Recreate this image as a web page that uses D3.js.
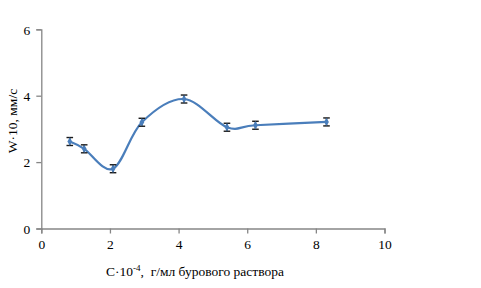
<!DOCTYPE html>
<html><head><meta charset="utf-8">
<script src="https://cdn.jsdelivr.net/npm/d3@7"></script>
<style>
body{margin:0;background:#fff;}
svg text{font-family:"Liberation Serif","Times New Roman","DejaVu Serif",serif !important;}
</style></head>
<body><svg id="c" width="481" height="288" font-family="Liberation Serif"></svg>
<script>
const xValues=[0.83,1.25,2.09,2.93,4.16,5.41,6.24,8.31];
const yValues=[2.62,2.40,1.80,3.20,3.90,3.05,3.11,3.21];
const yErr=[0.12,0.12,0.12,0.12,0.12,0.12,0.12,0.12];
const xTicks=[0,2,4,6,8,10];
const yTicks=[0,2,4,6];

const svg=d3.select("#c");
const x=d3.scaleLinear().domain([0,10]).range([41.3,384.5]);
const y=d3.scaleLinear().domain([0,6]).range([228.5,29.3]);
const axisColor="#868686";

const gx=svg.append("g").attr("transform","translate(0,228.5)")
  .call(d3.axisBottom(x).tickValues(xTicks).tickSize(5).tickPadding(6).tickFormat(d3.format("d")));
const gy=svg.append("g").attr("transform","translate(41.3,0)")
  .call(d3.axisLeft(y).tickValues(yTicks).tickSize(5).tickPadding(6).tickFormat(d3.format("d")));
[gx,gy].forEach(g=>{
  g.attr("font-family","Liberation Serif");
  g.select(".domain").attr("stroke",axisColor).attr("stroke-width",1.3);
  g.selectAll(".tick line").attr("stroke",axisColor).attr("stroke-width",1.3);
  g.selectAll(".tick text").attr("fill","#000").attr("font-size",13.5);
});
gy.selectAll(".tick text").attr("dy","0.35em");

const pts=xValues.map((v,i)=>[v,yValues[i],yErr[i]]);
const line=d3.line().x(d=>x(d[0])).y(d=>y(d[1])).curve(d3.curveCardinal.tension(0));
svg.append("path").datum(pts).attr("d",line).attr("fill","none")
  .attr("stroke","#4A7EBB").attr("stroke-width",2.2);

const eb=svg.append("g").attr("stroke","#1a1a1a").attr("stroke-width",1.4);
pts.forEach(d=>{
  const cx=x(d[0]);
  eb.append("line").attr("x1",cx).attr("x2",cx).attr("y1",y(d[1]-d[2])).attr("y2",y(d[1]+d[2]));
  eb.append("line").attr("x1",cx-3.3).attr("x2",cx+3.3).attr("y1",y(d[1]-d[2])).attr("y2",y(d[1]-d[2]));
  eb.append("line").attr("x1",cx-3.3).attr("x2",cx+3.3).attr("y1",y(d[1]+d[2])).attr("y2",y(d[1]+d[2]));
});
svg.append("g").selectAll("path").data(pts).join("path")
  .attr("d",d3.symbol(d3.symbolDiamond,20))
  .attr("transform",d=>`translate(${x(d[0])},${y(d[1])})`)
  .attr("fill","#4A7EBB");

svg.append("text").attr("transform","translate(17,121) rotate(-90)")
  .attr("text-anchor","middle").attr("font-size",13.5).text("W·10, мм/с");

const xl=svg.append("text").attr("x",106).attr("y",276).attr("font-size",13.5).attr("xml:space","preserve");
xl.append("tspan").text("C·10");
xl.append("tspan").attr("dy",-5).attr("font-size",9).text("-4");
xl.append("tspan").attr("dy",5).text(",\u00A0\u00A0г/мл бурового раствора");
</script></body></html>
